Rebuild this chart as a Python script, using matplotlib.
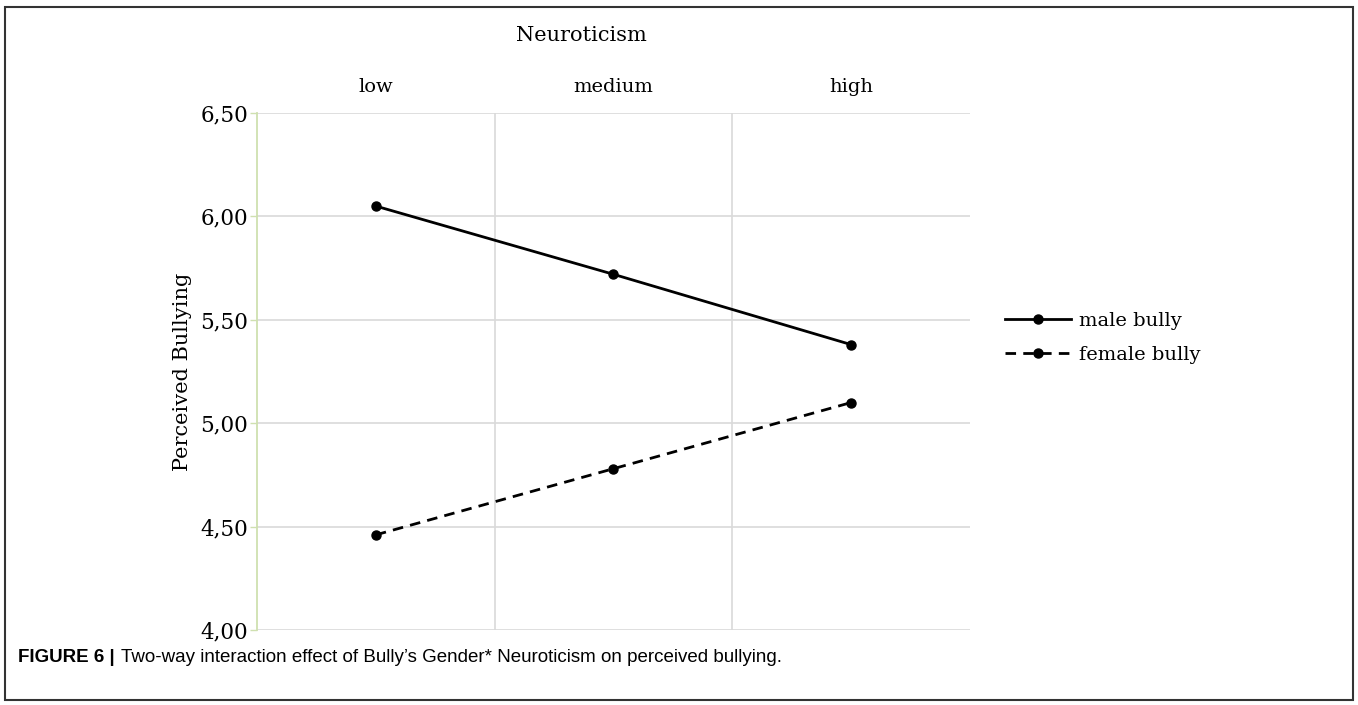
import matplotlib.pyplot as plt
from matplotlib.patches import Rectangle
from matplotlib.ticker import FuncFormatter

levels = ['low', 'medium', 'high']
male_bully = [6.05, 5.72, 5.38]
female_bully = [4.46, 4.78, 5.10]
yticks = [4.0, 4.5, 5.0, 5.5, 6.0, 6.5]

serif = ['DejaVu Serif']
sans = ['Liberation Sans', 'DejaVu Sans']

fig = plt.figure(figsize=(13.58, 7.05), dpi=100)
ax = fig.add_axes([0.1892, 0.1064, 0.5251, 0.7333])

x = list(range(len(levels)))
ax.plot(x, male_bully, color='black', lw=2.0, marker='o', ms=6.5, label='male bully')
ax.plot(x, female_bully, color='black', lw=2.0, marker='o', ms=6.5,
        dashes=[3.8, 2.6], label='female bully')

ax.set_xlim(-0.5, 2.5)
ax.set_ylim(4.0, 6.5)
ax.set_yticks(yticks)
ax.yaxis.set_major_formatter(FuncFormatter(lambda v, p: f'{v:.2f}'.replace('.', ',')))
ax.set_xticks(x)
ax.set_xticklabels(levels)
ax.set_xticks([0.5, 1.5], minor=True)
ax.xaxis.tick_top()
ax.tick_params(axis='x', which='both', length=0, pad=12)
ax.tick_params(axis='y', length=5, color='#cfe0b0', width=1, pad=1.5)

ax.grid(axis='y', color='#d9d9d9', lw=1.2)
ax.grid(axis='x', which='minor', color='#d9d9d9', lw=1.2)
ax.set_axisbelow(True)
for s in ['top', 'right', 'bottom']:
    ax.spines[s].set_visible(False)
ax.spines['left'].set_color('#cfe0b0')
ax.spines['left'].set_linewidth(1.3)

for lab in ax.get_xticklabels():
    lab.set_family(serif)
    lab.set_fontsize(14)
for lab in ax.get_yticklabels():
    lab.set_family(serif)
    lab.set_fontsize(15.5)

ax.set_ylabel('Perceived Bullying', family=serif, fontsize=15, labelpad=6)
fig.text(0.428, 0.949, 'Neuroticism', family=serif, fontsize=15, ha='center', va='center')

ax.legend(loc='center left', bbox_to_anchor=(1.024, 0.565), frameon=False,
          handlelength=3.4, handletextpad=0.4, labelspacing=0.85,
          prop={'family': serif, 'size': 14})

fig.text(0.013, 0.067, 'FIGURE 6 |', family=sans, fontsize=13.5, fontweight='bold', va='center')
fig.text(0.089, 0.067, "Two-way interaction effect of Bully\u2019s Gender* Neuroticism on perceived bullying.",
         family=sans, fontsize=13.5, va='center')

fig.patches.append(Rectangle((0.004, 0.007), 0.992, 0.983, transform=fig.transFigure,
                             fill=False, edgecolor='#333333', lw=1.5))

fig.savefig('out.png', dpi=100)
